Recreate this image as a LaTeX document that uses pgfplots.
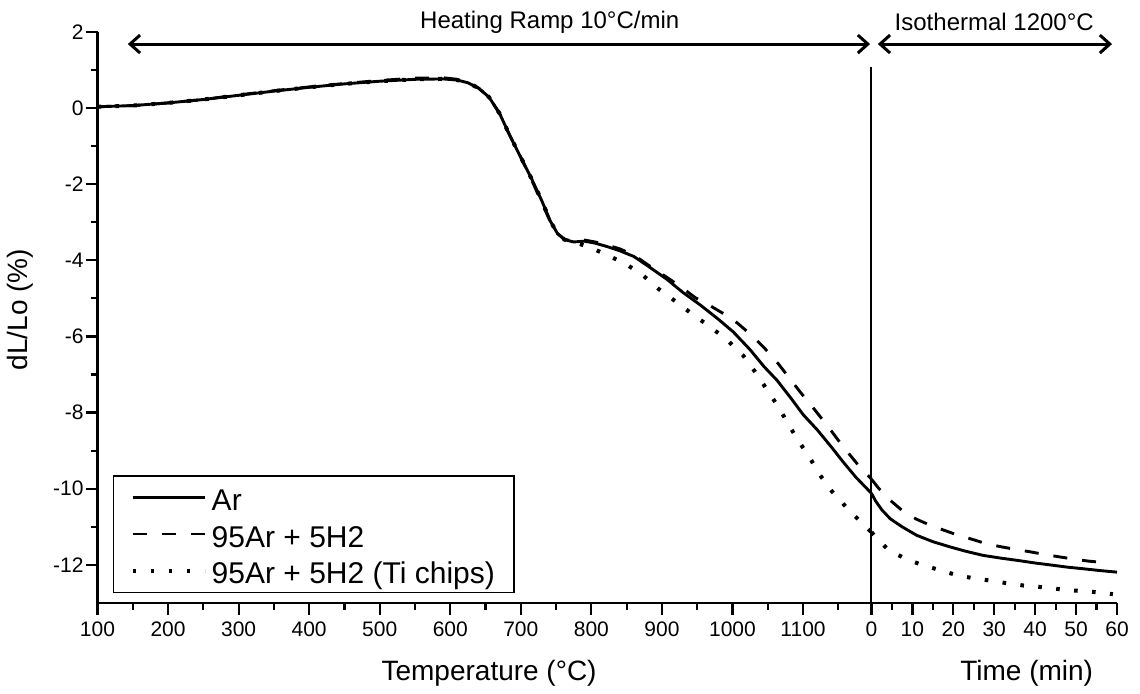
\documentclass[border=0pt]{standalone}
\usepackage{fontspec}
\setmainfont{Liberation Sans}
\usepackage{pgfplots}
\pgfplotsset{compat=1.18}
\usetikzlibrary{arrows.meta}

\begin{document}
\begin{tikzpicture}
\begin{axis}[
  at={(0,0)}, anchor=south west,
  scale only axis,
  width=509.75pt, height=285.65pt,
  xmin=100, xmax=1545, ymin=-13, ymax=2,
  axis x line*=bottom, axis y line*=left,
  axis line style={line width=1.3pt, black, -},
  tick style={line width=1.1pt, black},
  major tick length=6pt, minor tick length=3.5pt,
  tick align=outside,
  xtick={100,200,300,400,500,600,700,800,900,1000,1100,1197,1255,1313,1371,1429,1487,1545},
  xticklabels={100,200,300,400,500,600,700,800,900,1000,1100,0,10,20,30,40,50,60},
  minor xtick={150,250,350,450,550,650,750,850,950,1050,1150,1226,1284,1342,1400,1458,1516},
  ytick={-12,-10,-8,-6,-4,-2,0,2},
  minor ytick={-11,-9,-7,-5,-3,-1,1},
  tick label style={font=\fontsize{10.5}{12}\selectfont},
  yticklabel style={xshift=2.5pt},
  /pgf/number format/assume math mode=true,
  clip=false,
  legend cell align=left,
  legend style={at={(0.0152,0.0175)}, anchor=south west, draw=black, line width=0.75pt,
    font=\fontsize{15}{18}\selectfont, inner xsep=8.5pt, inner ysep=1.75pt, row sep=0pt,
    nodes={inner sep=1pt}},
  legend image code/.code={\draw[#1] (0pt,0pt) -- (36pt,0pt); \path (37.5pt,0pt);},
]
% ---- heating ramp (x = temperature, degC) ----
\addplot[black, line width=1.45pt] coordinates {
(100,0.03) (150,0.06) (200,0.13) (250,0.22) (300,0.33) (350,0.44) (400,0.54) (450,0.63)
(500,0.70) (550,0.75) (590,0.76) (610,0.73) (625,0.66) (640,0.52) (655,0.28) (670,-0.15)
(685,-0.75) (700,-1.30) (715,-1.85) (730,-2.45) (742,-2.98) (752,-3.30) (762,-3.46)
(775,-3.52) (790,-3.50) (805,-3.55) (822,-3.64) (840,-3.75) (860,-3.90) (880,-4.15)
(907,-4.50) (930,-4.85) (954,-5.17) (980,-5.55) (1001,-5.88) (1025,-6.35) (1045,-6.80)
(1063,-7.15) (1084,-7.65) (1100,-8.05) (1120,-8.45) (1140,-8.90) (1157,-9.30) (1175,-9.70)
(1197,-10.12)};
\addlegendentry{\rule[-2.5pt]{0pt}{17.25pt}Ar}
\addplot[black, line width=1.45pt, dash pattern=on 7pt off 7.5pt] coordinates {
(100,0.03) (150,0.06) (200,0.13) (250,0.22) (300,0.34) (350,0.45) (400,0.55) (450,0.64)
(500,0.72) (550,0.78) (590,0.79) (610,0.75) (625,0.66) (640,0.52) (655,0.28) (670,-0.15)
(685,-0.75) (700,-1.30) (715,-1.88) (730,-2.50) (742,-3.00) (752,-3.30) (762,-3.45)
(775,-3.50) (790,-3.47) (805,-3.52) (822,-3.60) (840,-3.70) (860,-3.86) (880,-4.12)
(907,-4.45) (927,-4.70) (947,-4.98) (967,-5.18) (987,-5.40) (1007,-5.65) (1027,-5.97)
(1045,-6.30) (1065,-6.72) (1080,-7.08) (1096,-7.46) (1112,-7.82) (1127,-8.17) (1142,-8.53)
(1157,-8.90) (1177,-9.35) (1197,-9.75)};
\addlegendentry{\rule[-2.5pt]{0pt}{17.25pt}95Ar + 5H2}
\addplot[black, line width=2pt, dash pattern=on 1.8pt off 7.2pt] coordinates {
(100,0.03) (150,0.06) (200,0.13) (250,0.22) (300,0.33) (350,0.44) (400,0.54) (450,0.63)
(500,0.70) (550,0.75) (590,0.76) (610,0.73) (625,0.66) (640,0.52) (655,0.28) (670,-0.15)
(685,-0.75) (700,-1.30) (715,-1.85) (730,-2.45) (742,-2.98) (752,-3.30) (762,-3.46)
(780,-3.55) (800,-3.68) (822,-3.86) (848,-4.09) (872,-4.38) (895,-4.75) (920,-5.09)
(944,-5.43) (967,-5.73) (991,-6.07) (1015,-6.50) (1032,-6.93) (1049,-7.40) (1065,-7.85)
(1079,-8.30) (1093,-8.73) (1109,-9.17) (1124,-9.64) (1141,-10.07) (1162,-10.50)
(1185,-10.93) (1197,-11.14)};
\addlegendentry{\rule[-2.5pt]{0pt}{17.25pt}95Ar + 5H2 (Ti chips)}
% ---- isothermal hold (x = time, min; mapped to 1197 + 5.8 t) ----
\addplot[black, line width=1.45pt, forget plot] table[x expr=1197+5.8*\thisrowno{0}, y index=1] {
0 -10.12
1 -10.32
2.5 -10.55
4.6 -10.79
7.5 -11.00
11 -11.22
15 -11.39
19.3 -11.53
23 -11.64
27.3 -11.75
31.5 -11.82
35.6 -11.88
40 -11.95
43.7 -12.00
48 -12.06
51.7 -12.10
56 -12.15
60 -12.19
};
\addplot[black, line width=1.45pt, dash pattern=on 7pt off 7.5pt, forget plot] table[x expr=1197+5.8*\thisrowno{0}, y index=1] {
0 -9.75
1.7 -9.98
4 -10.25
7.5 -10.57
11 -10.80
14.4 -10.96
18 -11.10
21.2 -11.22
25 -11.34
28.2 -11.45
32 -11.53
35.1 -11.59
39 -11.66
42 -11.72
46 -11.79
49 -11.84
53 -11.90
56 -11.93
58 -11.95
};
\addplot[black, line width=2pt, dash pattern=on 1.8pt off 7.2pt, forget plot] table[x expr=1197+5.8*\thisrowno{0}, y index=1] {
0 -11.14
2 -11.38
4.1 -11.60
8.3 -11.84
12.4 -12.00
16.8 -12.14
20.9 -12.27
24.9 -12.35
29 -12.41
33.1 -12.48
37.1 -12.54
41.2 -12.58
45.3 -12.63
49.2 -12.67
53.4 -12.70
57.8 -12.75
59 -12.77
};
% ---- annotations ----
\draw[line width=1pt] (axis cs:1197,1.07) -- (axis cs:1197,-13);
\draw[line width=1.5pt, {Straight Barb[length=5pt,width=9pt]}-{Straight Barb[length=5pt,width=9pt]}]
  (axis cs:143,1.676) -- (axis cs:1195,1.676);
\draw[line width=1.5pt, {Straight Barb[length=5pt,width=9pt]}-{Straight Barb[length=5pt,width=9pt]}]
  (axis cs:1206,1.676) -- (axis cs:1538,1.676);
\node[font=\fontsize{12}{14}\selectfont] at (axis cs:741,2.255) {Heating Ramp 10°C/min};
\node[font=\fontsize{12}{14}\selectfont] at (axis cs:1371,2.255) {Isothermal 1200°C};
\node[font=\fontsize{14}{16}\selectfont, yshift=-35pt] at (axis cs:655,-13) {Temperature (°C)};
\node[font=\fontsize{14}{16}\selectfont, yshift=-35pt] at (axis cs:1417,-13) {Time (min)};
\node[font=\fontsize{14}{16}\selectfont, rotate=90] at ([xshift=-38.75pt]axis cs:100,-5.3) {dL/Lo (\%)};
\end{axis}
\pgfresetboundingbox
\path[use as bounding box] (-48.75pt,-45pt) rectangle (521.25pt,301.5pt);
\end{tikzpicture}
\end{document}
